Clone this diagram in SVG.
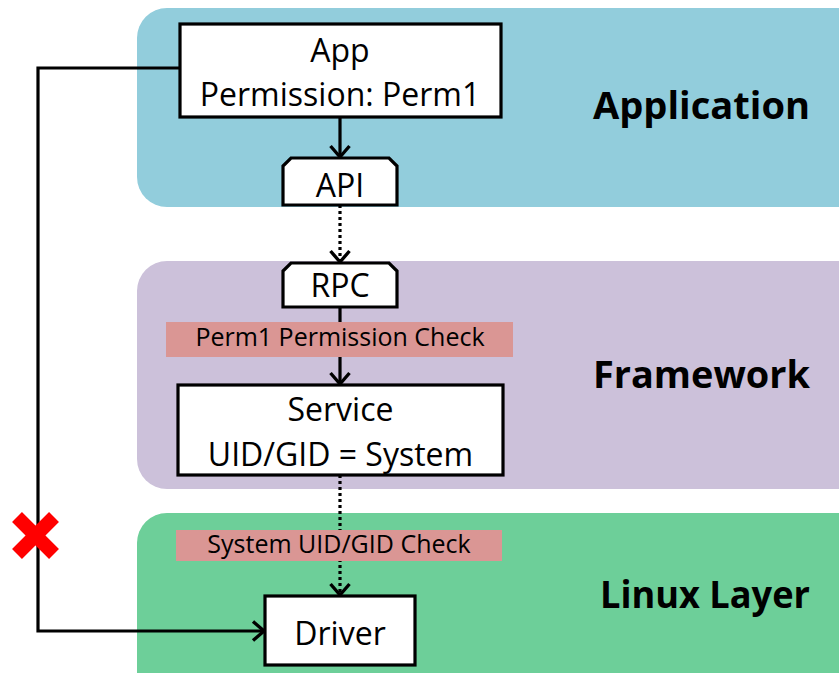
<svg xmlns="http://www.w3.org/2000/svg" width="839" height="673" viewBox="0 0 839 673">
<style>
.panel{stroke:none}
.box{fill:#fff;stroke:#000;stroke-width:3.2}
.t{font-family:"Open Sans","Noto Sans","Liberation Sans",sans-serif;font-size:32px;fill:#000;text-anchor:middle}
.bt{font-family:"Open Sans","Noto Sans","Liberation Sans",sans-serif;font-size:25px;fill:#000;text-anchor:middle}
.lt{font-family:"Open Sans","Lato","Liberation Sans",sans-serif;font-weight:bold;font-size:38px;fill:#000;text-anchor:end}
.band{fill:#da9694}
.c{fill:none;stroke:#000;stroke-width:3.2}
.dot{stroke-dasharray:3 3}
</style>
<defs>
<marker id="chev" viewBox="0 0 16 22" markerUnits="userSpaceOnUse" markerWidth="16" markerHeight="22" refX="13" refY="11" orient="auto">
<path d="M2,1.5 L13,11 L2,20.5" fill="none" stroke="#000" stroke-width="3.4"/>
</marker>
</defs>
<g id="layer-application">
<rect class="panel" x="137" y="8" width="730" height="199" rx="30" fill="#92cddc"/>
<text class="lt" x="810" y="119" textLength="217" lengthAdjust="spacingAndGlyphs">Application</text>
</g>
<g id="layer-framework">
<rect class="panel" x="137" y="261" width="730" height="228" rx="30" fill="#ccc1da"/>
<text class="lt" x="810" y="388" textLength="217" lengthAdjust="spacingAndGlyphs">Framework</text>
</g>
<g id="layer-linux">
<rect class="panel" x="137" y="513" width="730" height="200" rx="30" fill="#6dcf99"/>
<text class="lt" x="810" y="608" textLength="210" lengthAdjust="spacingAndGlyphs">Linux Layer</text>
</g>
<g id="connectors">
<line class="c" x1="340" y1="117" x2="340" y2="157" marker-end="url(#chev)"/>
<line class="c dot" x1="340" y1="205" x2="340" y2="262" marker-end="url(#chev)"/>
<line class="c" x1="340" y1="307" x2="340" y2="384" marker-end="url(#chev)"/>
<line class="c dot" x1="340" y1="475" x2="340" y2="595" marker-end="url(#chev)"/>
<path class="c" d="M180,68 H38 V631 H264" marker-end="url(#chev)"/>
</g>
<g id="app">
<rect class="box" x="180" y="24" width="321" height="93"/>
<text class="t" x="340" y="62">App</text>
<text class="t" x="340" y="106">Permission: Perm1</text>
</g>
<g id="api">
<path class="box" d="M291,158 H389 L397,166 V205 H283 V166 Z"/>
<text class="t" x="340" y="197">API</text>
</g>
<g id="rpc">
<path class="box" d="M291,263 H389 L397,271 V307 H283 V271 Z"/>
<text class="t" x="340" y="297">RPC</text>
</g>
<g id="perm-check">
<rect class="band" x="166" y="322" width="347" height="35"/>
<text class="bt" x="340" y="346">Perm1 Permission Check</text>
</g>
<g id="service">
<rect class="box" x="178" y="385" width="325" height="90"/>
<text class="t" x="340.5" y="421">Service</text>
<text class="t" x="340.5" y="466">UID/GID = System</text>
</g>
<g id="uid-check">
<rect class="band" x="176" y="530" width="326" height="31"/>
<text class="bt" x="339" y="553">System UID/GID Check</text>
</g>
<g id="driver">
<rect class="box" x="265" y="596" width="150" height="69"/>
<text class="t" x="340" y="645">Driver</text>
</g>
<g id="blocked">
<line x1="17" y1="517" x2="54" y2="554" stroke="#ff0000" stroke-width="14"/>
<line x1="54" y1="517" x2="17" y2="554" stroke="#ff0000" stroke-width="14"/>
</g>
</svg>
